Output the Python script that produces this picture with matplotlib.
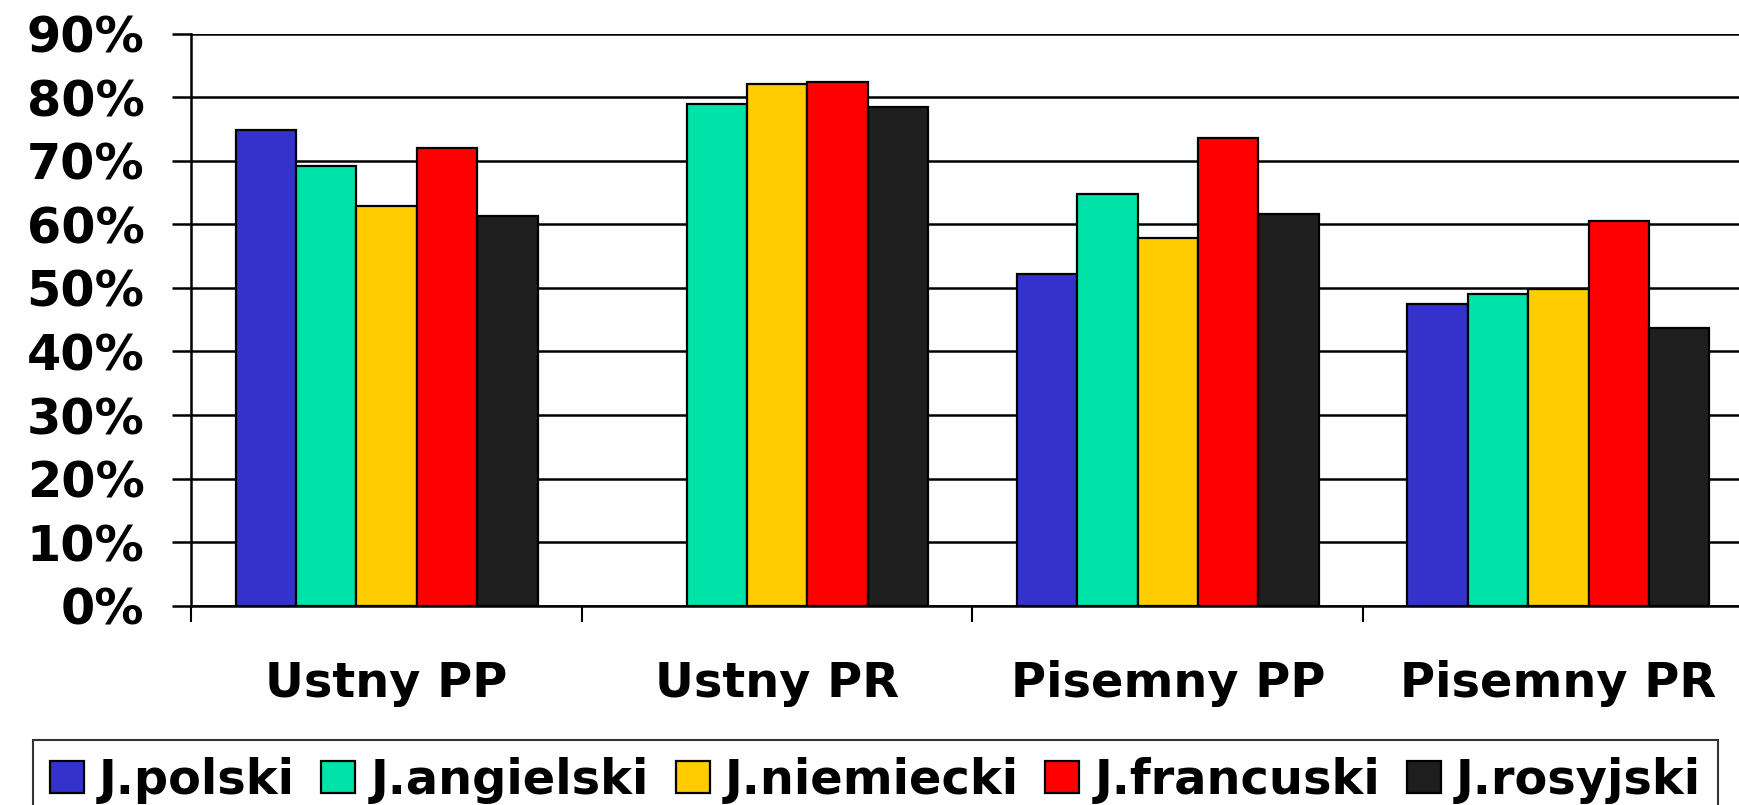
import numpy as np
import matplotlib
matplotlib.use('Agg')
import matplotlib.pyplot as plt
from matplotlib.ticker import PercentFormatter

plt.rcParams['font.family'] = 'DejaVu Sans'
plt.rcParams['font.weight'] = 'bold'

# data (fractions)
categories = ['Ustny PP', 'Ustny PR', 'Pisemny PP', 'Pisemny PR']
polski = [0.749, np.nan, 0.522, 0.475]
angielski = [0.692, 0.790, 0.648, 0.491]
niemiecki = [0.629, 0.821, 0.578, 0.498]
francuski = [0.720, 0.824, 0.736, 0.606]
rosyjski = [0.613, 0.784, 0.616, 0.437]

series = [polski, angielski, niemiecki, francuski, rosyjski]
names = ['J.polski', 'J.angielski', 'J.niemiecki', 'J.francuski', 'J.rosyjski']
colors = ['#3333CC', '#00E3A8', '#FFCC00', '#FF0000', '#1E1E1E']

fig = plt.figure(figsize=(17.4, 8.05), dpi=100)
ax = fig.add_axes([0.110, 0.2476, 0.8978, 0.7105])

x = np.arange(len(categories))
w = 0.1547
for j, (vals, nm, c) in enumerate(zip(series, names, colors)):
    ax.bar(x + (j - 2) * w, vals, w, color=c, edgecolor='black',
           linewidth=1.6, label=nm, zorder=3)

ax.set_xlim(-0.5, len(categories) - 0.5)
ax.set_ylim(0, 0.9)
ax.set_yticks(np.arange(0, 0.91, 0.1))
ax.yaxis.set_major_formatter(PercentFormatter(1.0, decimals=0))
ax.yaxis.grid(True, color='black', linewidth=1.8)
ax.set_axisbelow(True)

for s in ['top', 'right']:
    ax.spines[s].set_visible(False)
ax.spines['left'].set_linewidth(1.8)
ax.spines['bottom'].set_linewidth(1.8)

ax.tick_params(axis='y', labelsize=35.5, length=13.7, width=1.8, pad=20)
ax.set_xticks(x)
ax.set_xticklabels(categories)
ax.tick_params(axis='x', which='major', length=0, labelsize=34.5, pad=39)
ax.set_xticks(np.arange(-0.5, len(categories), 1.0), minor=True)
ax.tick_params(axis='x', which='minor', length=11.5, width=1.5)

leg = ax.legend(loc='upper left', bbox_to_anchor=(33 / 1740, 1 - 740 / 805),
                bbox_transform=fig.transFigure, ncol=5, fontsize=34.5,
                frameon=True, fancybox=False, edgecolor='black',
                handlelength=0.71, handleheight=0.65, handletextpad=0.31,
                columnspacing=0.56, borderpad=0.35, borderaxespad=0)
leg.get_frame().set_linewidth(1.5)

fig.savefig('out.png', dpi=100)
